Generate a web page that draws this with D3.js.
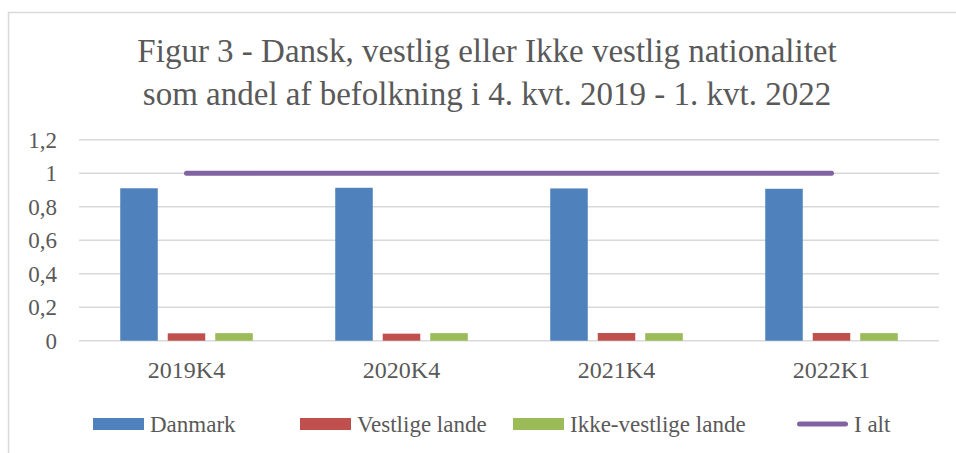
<!DOCTYPE html>
<html>
<head>
<meta charset="utf-8">
<script src="https://cdn.jsdelivr.net/npm/d3@7"></script>
<style>
  html, body { margin: 0; padding: 0; background: #fff; }
  svg { display: block; }
  text { font-family: "Liberation Serif", "DejaVu Serif", serif; fill: #595959; }
</style>
</head>
<body>
<svg id="chart" width="956" height="453"></svg>
<script>
const titleLines = ["Figur 3 - Dansk, vestlig eller Ikke vestlig nationalitet",
                    "som andel af befolkning i 4. kvt. 2019 - 1. kvt. 2022"];
const categories = ["2019K4", "2020K4", "2021K4", "2022K1"];
const seriesNames = ["Danmark", "Vestlige lande", "Ikke-vestlige lande"];
const danmark = [0.910, 0.913, 0.909, 0.907];
const vestlige = [0.044, 0.042, 0.046, 0.046];
const ikkeVestlige = [0.045, 0.045, 0.045, 0.045];
const lineName = "I alt";
const iAlt = [1, 1, 1, 1];
const yTicks = [0, 0.2, 0.4, 0.6, 0.8, 1, 1.2];
const colors = ["#4F81BD", "#C0504D", "#9BBB59"];
const lineColor = "#8064A2";

const svg = d3.select("#chart");
const plot = { left: 79, right: 939, top: 139.7, bottom: 340.7 };

// outer border (only top and left visible in reference)
svg.append("rect").attr("x", 8.5).attr("y", 12.5).attr("width", 1200).attr("height", 1200)
  .attr("fill", "none").attr("stroke", "#D9D9D9").attr("stroke-width", 1.5);

// title
svg.append("g").selectAll("text").data(titleLines).join("text")
  .attr("x", 487).attr("y", (d, i) => 62 + i * 43)
  .attr("text-anchor", "middle").attr("font-size", 33)
  .text(d => d);

const x0 = d3.scaleBand().domain(categories).range([plot.left, plot.right]).padding(0);
const x1 = d3.scaleBand().domain(seriesNames).range([0, x0.bandwidth()])
  .paddingInner(0.21).paddingOuter(0.868);
const y = d3.scaleLinear().domain([0, 1.2]).range([plot.bottom, plot.top]);

const locale = d3.formatLocale({ decimal: ",", thousands: ".", grouping: [3], currency: ["", " kr."] });
const fmt = locale.format("~r");

// gridlines
svg.append("g").selectAll("line").data(yTicks).join("line")
  .attr("x1", plot.left).attr("x2", plot.right)
  .attr("y1", d => y(d)).attr("y2", d => y(d))
  .attr("stroke", "#D9D9D9").attr("stroke-width", 1.5);

// y axis labels
const yAxis = d3.axisLeft(y).tickValues(yTicks).tickFormat(fmt).tickSize(0).tickPadding(0);
const yg = svg.append("g").attr("transform", `translate(57,0)`).call(yAxis);
yg.select(".domain").remove();
yg.selectAll("text").attr("font-size", 23).attr("fill", "#595959")
  .attr("font-family", "Liberation Serif, DejaVu Serif, serif");

// x axis labels
const xAxis = d3.axisBottom(x0).tickSize(0).tickPadding(0);
const xg = svg.append("g").attr("transform", `translate(0,361)`).call(xAxis);
xg.select(".domain").remove();
xg.selectAll("text").attr("font-size", 24).attr("fill", "#595959")
  .attr("font-family", "Liberation Serif, DejaVu Serif, serif");

// bars
const seriesValues = [danmark, vestlige, ikkeVestlige];
const barData = [];
categories.forEach((c, i) => {
  seriesNames.forEach((s, j) => barData.push({ cat: c, ser: s, val: seriesValues[j][i], j }));
});
svg.append("g").selectAll("rect").data(barData).join("rect")
  .attr("x", d => x0(d.cat) + x1(d.ser))
  .attr("width", x1.bandwidth())
  .attr("y", d => y(d.val))
  .attr("height", d => y(0) - y(d.val))
  .attr("fill", d => colors[d.j]);

// total line
const line = d3.line().x((d, i) => x0(categories[i]) + x0.bandwidth() / 2).y(d => y(d));
svg.append("path").datum(iAlt).attr("d", line)
  .attr("fill", "none").attr("stroke", lineColor).attr("stroke-width", 5)
  .attr("stroke-linecap", "round");

// legend
const legendY = 424;
const legendItems = [
  { name: seriesNames[0], color: colors[0], type: "rect", x: 93 },
  { name: seriesNames[1], color: colors[1], type: "rect", x: 300 },
  { name: seriesNames[2], color: colors[2], type: "rect", x: 513 },
  { name: lineName, color: lineColor, type: "line", x: 797 }
];
const lg = svg.append("g");
legendItems.forEach(it => {
  if (it.type === "rect") {
    lg.append("rect").attr("x", it.x).attr("y", legendY - 6).attr("width", 51).attr("height", 12)
      .attr("fill", it.color);
  } else {
    lg.append("line").attr("x1", it.x + 2.5).attr("x2", it.x + 48.5)
      .attr("y1", legendY).attr("y2", legendY)
      .attr("stroke", it.color).attr("stroke-width", 5).attr("stroke-linecap", "round");
  }
  lg.append("text").attr("x", it.x + 57).attr("y", legendY).attr("dy", "0.35em")
    .attr("font-size", 23).text(it.name);
});
</script>
</body>
</html>
